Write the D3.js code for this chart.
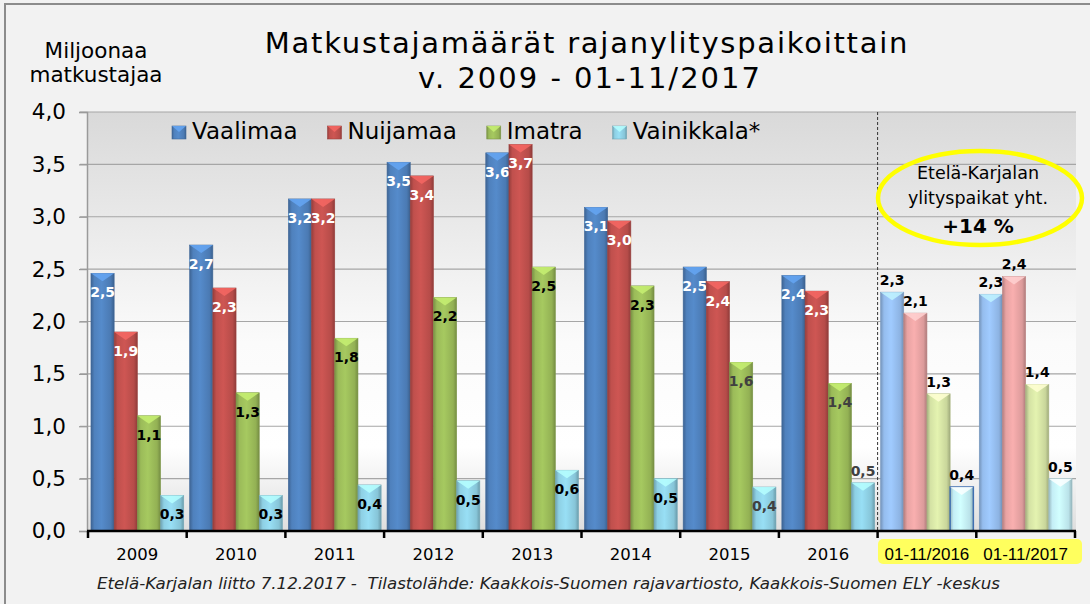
<!DOCTYPE html>
<meta charset="utf-8">
<head>
    <script src="https://d3js.org/d3.v7.min.js"></script>
    <style>
    body { margin: 0; background: #f2f2f2; }
    text { font-family: "DejaVu Sans", Verdana, sans-serif; }
    </style>
</head>
<body>
    <script>
    // data (million travellers)
    var categories = ["2009", "2010", "2011", "2012", "2013", "2014", "2015", "2016", "01-11/2016", "01-11/2017"];
    var seriesNames = ["Vaalimaa", "Nuijamaa", "Imatra", "Vainikkala*"];
    var vaalimaa   = [2.46, 2.73, 3.17, 3.52, 3.61, 3.09, 2.52, 2.44, 2.28, 2.26];
    var nuijamaa   = [1.90, 2.32, 3.17, 3.39, 3.69, 2.96, 2.38, 2.29, 2.08, 2.43];
    var imatra     = [1.10, 1.32, 1.84, 2.23, 2.52, 2.34, 1.61, 1.41, 1.31, 1.40];
    var vainikkala = [0.34, 0.34, 0.44, 0.48, 0.58, 0.50, 0.42, 0.46, 0.42, 0.50];
    var yTicks = [0, 0.5, 1, 1.5, 2, 2.5, 3, 3.5, 4];

    var values = [vaalimaa, nuijamaa, imatra, vainikkala];
    var colors = ["#4f81bd", "#c0504d", "#9bbb59", "#8ed0e4"];
    var pastel = ["#95bdee", "#e8a3a3", "#d4e2a4", "#c4eef6"];

    var width = 1090, height = 604;
    var plot = { left: 88, right: 1076, top: 112, bottom: 531 };

    var svg = d3.select("body").append("svg")
        .attr("width", width)
        .attr("height", height);

    var defs = svg.append("defs");

    // outer frame
    svg.append("rect")
        .attr("x", 5).attr("y", 4)
        .attr("width", 1100).attr("height", 640)
        .attr("fill", "#f2f2f2")
        .attr("stroke", "#8c8c8c")
        .attr("stroke-width", 2);

    // plot background gradient
    var bg = defs.append("linearGradient")
        .attr("id", "bg").attr("x1", 0).attr("y1", 0).attr("x2", 0).attr("y2", 1);
    bg.append("stop").attr("offset", "0%").attr("stop-color", "#d9d9d9");
    bg.append("stop").attr("offset", "55%").attr("stop-color", "#fbfbfb");
    bg.append("stop").attr("offset", "80%").attr("stop-color", "#ffffff");
    bg.append("stop").attr("offset", "100%").attr("stop-color", "#dedede");

    svg.append("rect")
        .attr("x", plot.left).attr("y", plot.top)
        .attr("width", plot.right - plot.left)
        .attr("height", plot.bottom - plot.top)
        .attr("fill", "url(#bg)");

    // bar gradients (left-right shading)
    function barGradient(id, c) {
        var g = defs.append("linearGradient")
            .attr("id", id).attr("x1", 0).attr("y1", 0).attr("x2", 1).attr("y2", 0);
        var base = d3.color(c);
        g.append("stop").attr("offset", "0%").attr("stop-color", base.darker(0.7));
        g.append("stop").attr("offset", "15%").attr("stop-color", base);
        g.append("stop").attr("offset", "45%").attr("stop-color", base.brighter(0.2));
        g.append("stop").attr("offset", "85%").attr("stop-color", base.darker(0.15));
        g.append("stop").attr("offset", "100%").attr("stop-color", base.darker(0.8));
    }
    colors.forEach(function(c, i) { barGradient("g" + i, c); });
    pastel.forEach(function(c, i) { barGradient("p" + i, c); });

    // scales
    var x = d3.scaleBand()
        .domain(categories)
        .range([plot.left, plot.right - 1])
        .paddingInner(0.06)
        .paddingOuter(0.03);
    var xs = d3.scaleBand()
        .domain(d3.range(seriesNames.length))
        .range([0, x.bandwidth()]);
    var y = d3.scaleLinear()
        .domain([0, 4])
        .range([plot.bottom, plot.top]);

    var fmt = function(d) { return d3.format(".1f")(d).replace(".", ","); };

    // gridlines
    svg.append("g").selectAll("line")
        .data(yTicks.slice(1))
        .enter().append("line")
        .attr("x1", 80).attr("x2", plot.right)
        .attr("y1", function(d) { return y(d); })
        .attr("y2", function(d) { return y(d); })
        .attr("stroke", "#a6a6a6")
        .attr("stroke-width", 1.2);

    // y axis
    var yAxis = svg.append("g")
        .attr("transform", "translate(" + (plot.left - 1) + ",0)")
        .call(d3.axisLeft(y).tickValues(yTicks).tickFormat(fmt).tickSize(8).tickPadding(13));
    yAxis.select(".domain").attr("stroke", "#9a9a9a").attr("stroke-width", 1.5);
    yAxis.selectAll(".tick line").attr("stroke", "#9a9a9a").attr("stroke-width", 1.2);
    yAxis.selectAll(".tick text")
        .style("font-family", "DejaVu Sans")
        .style("font-size", "21.5px")
        .attr("fill", "#000");

    // dashed separator before the partial-year categories
    var sepX = plot.left + x.step() * 8;
    svg.append("line")
        .attr("x1", sepX).attr("x2", sepX)
        .attr("y1", plot.top).attr("y2", plot.bottom)
        .attr("stroke", "#333")
        .attr("stroke-width", 1)
        .attr("stroke-dasharray", "3,2");

    // bars
    var barData = [];
    categories.forEach(function(c, ci) {
        values.forEach(function(arr, si) {
            barData.push({ cat: c, ci: ci, si: si, v: arr[ci] });
        });
    });

    var bars = svg.append("g").selectAll("g")
        .data(barData)
        .enter().append("g");

    bars.append("rect")
        .attr("x", function(d) { return x(d.cat) + xs(d.si); })
        .attr("y", function(d) { return y(d.v); })
        .attr("width", xs.bandwidth())
        .attr("height", function(d) { return y(0) - y(d.v); })
        .attr("fill", function(d) { return d.ci >= 8 ? "url(#p" + d.si + ")" : "url(#g" + d.si + ")"; })
        .attr("stroke", function(d) {
            if (d.ci == 8 && d.si == 3) return "#3f6fb0";
            return d3.color(d.ci >= 8 ? pastel[d.si] : colors[d.si]).darker(0.6);
        })
        .attr("stroke-width", function(d) { return d.ci == 8 && d.si == 3 ? 1.5 : 0.6; });

    // bevel on top of each bar
    bars.append("path")
        .attr("d", function(d) {
            var x0 = x(d.cat) + xs(d.si), x1 = x0 + xs.bandwidth(), t = y(d.v);
            return "M" + x0 + "," + t + "L" + x1 + "," + t + "L" + ((x0 + x1) / 2) + "," + (t + 8) + "Z";
        })
        .attr("fill", function(d) { return d3.color(d.ci >= 8 ? pastel[d.si] : colors[d.si]).brighter(0.7); })
        .attr("opacity", 0.85);

    // value labels
    bars.append("text")
        .attr("x", function(d) { return x(d.cat) + xs(d.si) + xs.bandwidth() / 2; })
        .attr("y", function(d) {
            var above = d.ci >= 8 || (d.ci == 7 && d.si == 3);
            return above ? y(d.v) - 7 : y(d.v) + 24;
        })
        .attr("text-anchor", "middle")
        .style("font-family", "DejaVu Sans")
        .style("font-weight", "bold")
        .style("font-size", "14px")
        .attr("fill", function(d) {
            if (d.ci >= 8) return "#000";
            if (d.si < 2) return "#fff";
            return d.ci >= 6 ? "#404040" : "#000";
        })
        .text(function(d) { return fmt(d.v); });

    // x axis
    svg.append("line")
        .attr("x1", plot.left - 1).attr("x2", plot.right)
        .attr("y1", plot.bottom).attr("y2", plot.bottom)
        .attr("stroke", "#000")
        .attr("stroke-width", 2.5);
    svg.append("g").selectAll("line")
        .data(d3.range(categories.length + 1))
        .enter().append("line")
        .attr("x1", function(i) { return plot.left + i * x.step(); })
        .attr("x2", function(i) { return plot.left + i * x.step(); })
        .attr("y1", plot.bottom).attr("y2", plot.bottom + 7)
        .attr("stroke", "#000")
        .attr("stroke-width", 2.5);

    // yellow highlight for the partial-year labels
    svg.append("rect")
        .attr("x", 878).attr("y", 539)
        .attr("width", 204).attr("height", 25)
        .attr("rx", 5)
        .attr("fill", "#ffff5e");

    svg.append("g").selectAll("text")
        .data(categories)
        .enter().append("text")
        .attr("x", function(d) { return x(d) + x.bandwidth() / 2; })
        .attr("y", 560)
        .attr("text-anchor", "middle")
        .style("font-family", function(d, i) { return i >= 8 ? "Liberation Sans" : "DejaVu Sans"; })
        .style("font-size", function(d, i) { return i >= 8 ? "17px" : "16.5px"; })
        .attr("fill", "#000")
        .text(function(d) { return d; });

    // legend
    var legend = svg.append("g");
    var lx = 172;
    seriesNames.forEach(function(name, i) {
        legend.append("rect")
            .attr("x", lx).attr("y", 126)
            .attr("width", 14).attr("height", 13)
            .attr("fill", "url(#g" + i + ")")
            .attr("stroke", d3.color(colors[i]).darker(0.6))
            .attr("stroke-width", 0.6);
        legend.append("path")
            .attr("d", "M" + lx + ",126L" + (lx + 14) + ",126L" + (lx + 7) + ",132Z")
            .attr("fill", d3.color(colors[i]).brighter(0.7))
            .attr("opacity", 0.85);
        var t = legend.append("text")
            .attr("x", lx + 20).attr("y", 139)
            .style("font-size", "23px")
            .attr("fill", "#000")
            .text(name);
        lx += 20 + t.node().getComputedTextLength() + 30;
    });

    // titles
    svg.append("text")
        .attr("x", 587).attr("y", 53)
        .attr("text-anchor", "middle")
        .style("font-size", "29px")
        .style("letter-spacing", "1.75px")
        .text("Matkustajamäärät rajanylityspaikoittain");
    svg.append("text")
        .attr("x", 590).attr("y", 88)
        .attr("text-anchor", "middle")
        .style("font-size", "29px")
        .style("letter-spacing", "2px")
        .text("v. 2009 - 01-11/2017");

    svg.append("text")
        .attr("x", 96).attr("y", 58)
        .attr("text-anchor", "middle")
        .style("font-size", "21.5px")
        .text("Miljoonaa");
    svg.append("text")
        .attr("x", 96).attr("y", 82)
        .attr("text-anchor", "middle")
        .style("font-size", "21.5px")
        .text("matkustajaa");

    // callout ellipse
    svg.append("ellipse")
        .attr("cx", 980).attr("cy", 198)
        .attr("rx", 102).attr("ry", 47)
        .attr("fill", "none")
        .attr("stroke", "#ffff00")
        .attr("stroke-width", 4.5);
    svg.append("text")
        .attr("x", 978).attr("y", 179)
        .attr("text-anchor", "middle")
        .style("font-size", "17.5px")
        .text("Etelä-Karjalan");
    svg.append("text")
        .attr("x", 978).attr("y", 204)
        .attr("text-anchor", "middle")
        .style("font-size", "17.5px")
        .text("ylityspaikat yht.");
    svg.append("text")
        .attr("x", 978).attr("y", 233)
        .attr("text-anchor", "middle")
        .style("font-size", "20px")
        .style("font-weight", "bold")
        .text("+14 %");

    // source footer
    svg.append("text")
        .attr("x", 97).attr("y", 589)
        .attr("textLength", 903)
        .attr("lengthAdjust", "spacingAndGlyphs")
        .style("font-size", "15px")
        .style("font-style", "italic")
        .style("white-space", "pre")
        .attr("fill", "#222")
        .text("Etelä-Karjalan liitto 7.12.2017 -  Tilastolähde: Kaakkois-Suomen rajavartiosto, Kaakkois-Suomen ELY -keskus");
    </script>
</body>
</html>
